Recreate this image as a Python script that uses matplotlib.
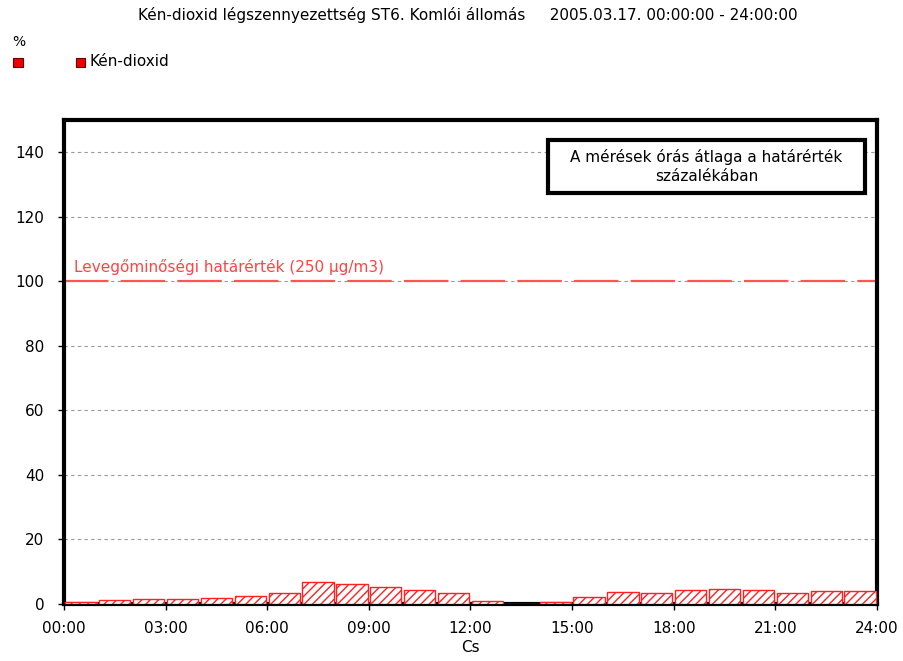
import matplotlib
matplotlib.use("Agg")
import matplotlib.pyplot as plt
import numpy as np

plt.rcParams['font.family'] = ['DejaVu Sans']
plt.rcParams['hatch.linewidth'] = 1.0

hours = list(range(24))
values = [0.6, 1.2, 1.5, 1.5, 1.8, 2.4, 3.3, 6.8, 6.3, 5.3, 4.3, 3.3,
          1.0, 0.0, 0.5, 2.3, 3.6, 3.3, 4.3, 4.8, 4.3, 3.4, 3.9, 4.1]
limit_value = 100
tick_hours = [0, 3, 6, 9, 12, 15, 18, 21, 24]
tick_labels = ["00:00", "03:00", "06:00", "09:00", "12:00", "15:00", "18:00", "21:00", "24:00"]
y_ticks = [0, 20, 40, 60, 80, 100, 120, 140]

W, H = 904, 661
fig = plt.figure(figsize=(W/100, H/100), dpi=100)
ax = fig.add_axes([64/W, 1 - 604/H, (877-64)/W, (604-120)/H])

ax.bar([h + 0.5 for h in hours], values, width=0.92, color='white',
       edgecolor='#ff2020', hatch='////', linewidth=1.0, zorder=3)

ax.axhline(limit_value, color='#ff5555', linestyle=(0, (20, 5.5)), linewidth=1.6, zorder=2)
ax.text(0.3, limit_value + 2, "Levegőminőségi határérték (250 µg/m3)", color='#ff4444',
        fontsize=11, va='bottom', ha='left')

ax.set_xlim(0, 24)
ax.set_ylim(0, 150)
ax.set_xticks(tick_hours)
ax.set_xticklabels(tick_labels, fontsize=11)
ax.set_yticks(y_ticks)
ax.set_yticklabels([str(v) for v in y_ticks], fontsize=11)
ax.yaxis.grid(True, color='#999999', linestyle=(0, (3, 3)), linewidth=0.8)
ax.set_axisbelow(True)
for s in ax.spines.values():
    s.set_linewidth(3)
    s.set_color('black')
ax.tick_params(axis='x', length=4, width=1, direction='out', pad=8)
ax.tick_params(axis='y', length=4, width=1, direction='out', pad=10)
ax.set_xlabel("Cs", fontsize=11, labelpad=3)

# info box
x0 = (548 - 64) / 813
x1 = (865 - 64) / 813
y0 = (604 - 193) / 484
y1 = (604 - 140) / 484
ax.add_patch(plt.Rectangle((x0, y0), x1 - x0, y1 - y0, transform=ax.transAxes,
                           facecolor='white', edgecolor='black', linewidth=3, zorder=5))
ax.text((x0 + x1) / 2, (y0 + y1) / 2, "A mérések órás átlaga a határérték\nszázalékában",
        transform=ax.transAxes, ha='center', va='center', fontsize=11, linespacing=1.35, zorder=6)

fig.text(468/W, 1 - 15/H, "Kén-dioxid légszennyezettség ST6. Komlói állomás     2005.03.17. 00:00:00 - 24:00:00",
         ha='center', va='center', fontsize=11)
fig.text(12/W, 1 - 42/H, "%", ha='left', va='center', fontsize=10)
fig.patches.append(plt.Rectangle((13/W, 1 - 67/H), 10/W, 9/H, transform=fig.transFigure,
                                 facecolor='#ee0000', edgecolor='#660000', linewidth=0.8))
fig.patches.append(plt.Rectangle((76/W, 1 - 67/H), 9/W, 9/H, transform=fig.transFigure,
                                 facecolor='#ee0000', edgecolor='#660000', linewidth=0.8))
fig.text(90/W, 1 - 62/H, "Kén-dioxid", ha='left', va='center', fontsize=11)

fig.savefig("out.png", dpi=100)
